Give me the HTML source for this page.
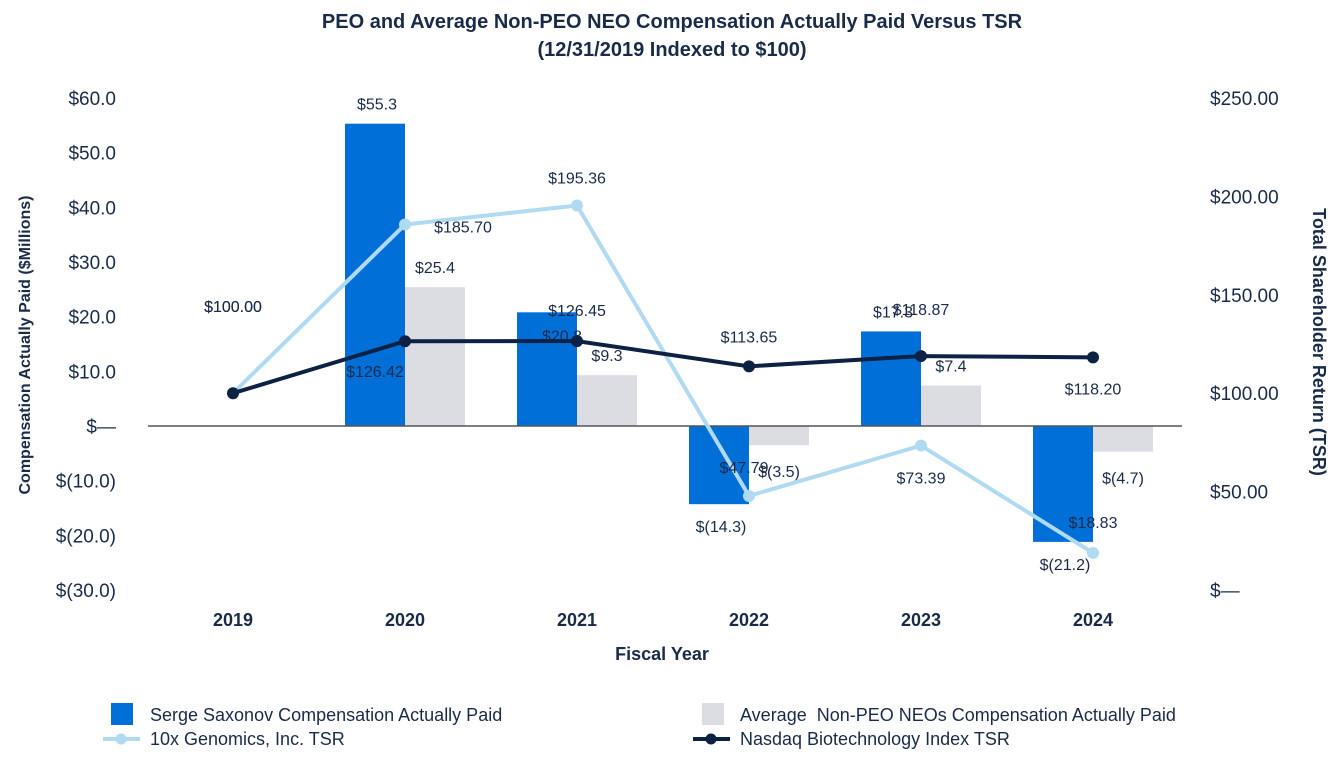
<!DOCTYPE html>
<html><head><meta charset="utf-8"><style>
html,body{margin:0;padding:0;background:#fff;}
svg{display:block;font-family:"Liberation Sans",sans-serif;}
</style></head><body>
<svg id="chart" width="1344" height="768" viewBox="0 0 1344 768">
<text x="672" y="28" text-anchor="middle" font-size="20" font-weight="bold" fill="#1a2b4a">PEO and Average Non-PEO NEO Compensation Actually Paid Versus TSR</text>
<text x="672" y="56" text-anchor="middle" font-size="20" font-weight="bold" fill="#1a2b4a">(12/31/2019 Indexed to $100)</text>
<g id="plot"></g>
<text transform="translate(30,345) rotate(-90)" text-anchor="middle" font-size="16" font-weight="bold" fill="#1a2b4a">Compensation Actually Paid ($Millions)</text>
<text transform="translate(1313,342) rotate(90)" text-anchor="middle" font-size="18" font-weight="bold" fill="#1a2b4a">Total Shareholder Return (TSR)</text>
<text x="662" y="660" text-anchor="middle" font-size="18" font-weight="bold" fill="#1a2b4a">Fiscal Year</text>
<g font-size="18" fill="#1a2b4a">
<rect x="111" y="703" width="22" height="22" fill="#0070d8"/>
<text x="150" y="721">Serge Saxonov Compensation Actually Paid</text>
<rect x="702" y="703" width="22" height="22" fill="#dcdde3"/>
<text x="740" y="721">Average&#160; Non-PEO NEOs Compensation Actually Paid</text>
<line x1="103" y1="739" x2="140" y2="739" stroke="#b0daf2" stroke-width="4"/>
<circle cx="121" cy="739" r="5.5" fill="#b0daf2"/>
<text x="150" y="745">10x Genomics, Inc. TSR</text>
<line x1="693" y1="739" x2="730" y2="739" stroke="#0d2144" stroke-width="4"/>
<circle cx="711" cy="739" r="5.5" fill="#0d2144"/>
<text x="740" y="745">Nasdaq Biotechnology Index TSR</text>
</g>
</svg>
<script>
const years=["2019","2020","2021","2022","2023","2024"];
const peo=[null,55.3,20.8,-14.3,17.3,-21.2];
const neo=[null,25.4,9.3,-3.5,7.4,-4.7];
const tsr10x=[100.00,185.70,195.36,47.79,73.39,18.83];
const nasdaq=[100.00,126.42,126.45,113.65,118.87,118.20];
const leftTicks=[60,50,40,30,20,10,0,-10,-20,-30];
const rightTicks=[250,200,150,100,50,0];
const NS="http://www.w3.org/2000/svg";
const g=document.getElementById('plot');
const yL=v=>426+(-v)*(492/90);
const yR=v=>590-v*(492/250);
const xC=i=>233+i*172;
function mk(t,a,txt){const e=document.createElementNS(NS,t);for(const k in a)e.setAttribute(k,a[k]);if(txt!=null)e.textContent=txt;g.appendChild(e);return e;}
const fmtM=v=>v===0?"$\u2014":(v<0?"$("+Math.abs(v).toFixed(1)+")":"$"+v.toFixed(1));
const fmtR=v=>v===0?"$\u2014":"$"+v.toFixed(2);
leftTicks.forEach(v=>{const e=mk('text',{x:116,y:yL(v)+7,'text-anchor':'end','font-size':19,fill:'#1a2b4a'},fmtM(v));

});
rightTicks.forEach(v=>{const e=mk('text',{x:1210,y:yR(v)+7,'font-size':19,fill:'#1a2b4a'},fmtR(v));

});
years.forEach((y,i)=>{const e=mk('text',{x:xC(i),y:626,'text-anchor':'middle','font-size':18,'font-weight':'bold',fill:'#1a2b4a'},y);

});
const fs={'font-size':16,fill:'#1a2b4a','text-anchor':'middle'};
const peoOff=[null,[-28,-14],[-15,29],[-28,28],[-28,-14],[-28,28]];
peo.forEach((v,i)=>{if(v==null)return;const y0=yL(0),y1=yL(v);
const r=mk('rect',{x:xC(i)-60,y:Math.min(y0,y1),width:60,height:Math.abs(y1-y0),fill:'#0070d8'});


const o=peoOff[i];
const t=mk('text',Object.assign({x:xC(i)+o[0],y:y1+o[1]},fs),fmtM(v));

});
neo.forEach((v,i)=>{if(v==null)return;const y0=yL(0),y1=yL(v);
const r=mk('rect',{x:xC(i),y:Math.min(y0,y1),width:60,height:Math.abs(y1-y0),fill:'#dcdde3'});


const t=mk('text',Object.assign({x:xC(i)+30,y:v>0?y1-14:y1+32},fs),fmtM(v));

});
const ax=mk('line',{x1:148,y1:yL(0),x2:1182,y2:yL(0),stroke:'#555','stroke-width':1.5});


function series(arr,col,name,offs){
const pts=arr.map((v,i)=>xC(i)+','+yR(v)).join(' ');
const l=mk('polyline',{points:pts,fill:'none',stroke:col,'stroke-width':4});


arr.forEach((v,i)=>{const c=mk('circle',{cx:xC(i),cy:yR(v),r:6,fill:col});


const o=offs[i];const t=mk('text',Object.assign({},fs,{x:xC(i)+o[0],y:yR(v)+o[1]}),fmtR(v));

});}
series(tsr10x,'#b0daf2','tsr-10x',[[0,-81],[58,8],[0,-22],[-5,-23],[0,38],[0,-25]]);
series(nasdaq,'#0d2144','tsr-nasdaq',[[0,-81],[-30,36],[0,-25],[0,-24],[0,-41],[0,37]]);
</script>
</body></html>
